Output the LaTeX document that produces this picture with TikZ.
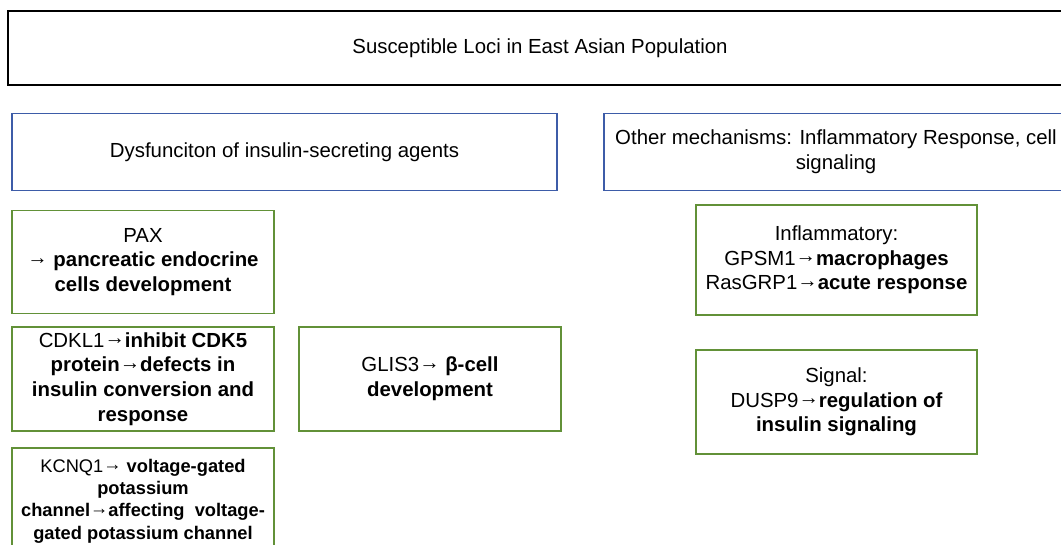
\documentclass[tikz,border=0pt]{standalone}
\usepackage{fontspec}
\setmainfont{Liberation Sans}
\definecolor{headblue}{RGB}{61,92,168}
\definecolor{locgreen}{RGB}{98,145,56}
\newcommand{\toarr}{\raisebox{.12em}{→}}

\begin{document}
\begin{tikzpicture}[x=0.025cm, y=-0.025cm,
    every node/.style={font=\fontsize{14.5}{17.5}\selectfont, align=center, inner sep=0pt},
    title/.style={draw=black, line width=1.8pt, minimum width=26.6cm, minimum height=1.85cm},
    group/.style={draw=headblue, line width=1.4pt, minimum height=1.925cm},
    locus/.style={draw=locgreen, line width=1.4pt, minimum width=6.55cm},
    wide/.style={locus, minimum width=7.025cm}
]
    \useasboundingbox (0,0) rectangle (1061,545);
    \clip (0,0) rectangle (1061,545);

    % Title
    \node[title] (T) at (540,48) {Susceptible Loci in East Asian Population};

    % Two groups of mechanisms
    \node[group, minimum width=13.625cm] (G1) at (284.5,152) {Dysfunciton of insulin-secreting agents};
    \node[group, minimum width=11.6cm] (G2) at (836,152) {Other mechanisms: Inflammatory Response, cell\\signaling};

    % Insulin-secreting loci
    \node[locus, minimum height=2.575cm] (PAX) at (143,262)
        {PAX\\\toarr{} \textbf{pancreatic endocrine}\\\textbf{cells development}};
    \node[locus, minimum height=2.6cm] (CDKL) at (143,379)
        {CDKL1\toarr\textbf{inhibit CDK5}\\\textbf{protein}\toarr\textbf{defects in}\\\textbf{insulin conversion and}\\\textbf{response}};
    \node[locus, minimum height=2.65cm, font=\fontsize{13}{15.8}\selectfont] (KCNQ) at (143,501)
        {KCNQ1\toarr{} \textbf{voltage-gated}\\\textbf{potassium}\\\textbf{channel}\toarr\textbf{affecting\ \ voltage-}\\\textbf{gated potassium channel}};
    \node[locus, minimum height=2.6cm] (GLIS) at (430,379)
        {GLIS3\toarr{} \textbf{β-cell}\\\textbf{development}};

    % Other loci
    \node[wide, minimum height=2.75cm] (INF) at (836.5,260)
        {Inflammatory:\\GPSM1\toarr\textbf{macrophages}\\RasGRP1\toarr\textbf{acute response}};
    \node[wide, minimum height=2.6cm] (SIG) at (836.5,402)
        {Signal:\\DUSP9\toarr\textbf{regulation of}\\\textbf{insulin signaling}};
\end{tikzpicture}
\end{document}
